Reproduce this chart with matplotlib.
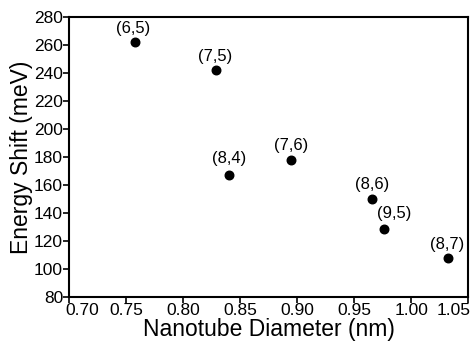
import matplotlib.pyplot as plt
import matplotlib.transforms as mtransforms

plt.rcParams['font.family'] = ['Liberation Sans', 'DejaVu Sans']

# chirality labels, diameters (nm) and energy shifts (meV)
chirality = ["(6,5)", "(7,5)", "(8,4)", "(7,6)", "(8,6)", "(9,5)", "(8,7)"]
diameter = [0.758, 0.829, 0.840, 0.895, 0.966, 0.976, 1.032]
shift = [262.5, 242, 167, 178, 150, 128.5, 107.5]

xticks = [0.70, 0.75, 0.80, 0.85, 0.90, 0.95, 1.00, 1.05]
xticklabels = ["0.70", "0.75", "0.80", "0.85", "0.90", "0.95", "1.00", "1.05"]

# label offsets in pixels (dx, dy)
offsets = [(-2, 13), (-1, 14), (0, 17), (0, 14), (0, 14), (10, 15), (0, 14)]

fig = plt.figure(figsize=(4.73, 3.43), dpi=100)
ax = fig.add_axes([0.1465, 0.135, 0.843, 0.815])

ax.scatter(diameter, shift, s=38, color='black', zorder=3)
for lab, x, y, off in zip(chirality, diameter, shift, offsets):
    ax.annotate(lab, (x, y), xytext=off, textcoords='offset pixels',
                ha='center', va='center', fontsize=12)

ax.set_xlim(0.70, 1.05)
ax.set_ylim(80, 280)
ax.set_xticks(xticks)
ax.set_xticklabels(xticklabels)
ax.set_yticks(range(80, 281, 20))

ax.set_xlabel("Nanotube Diameter (nm)", fontsize=16.5, labelpad=0)
ax.set_ylabel("Energy Shift (meV)", fontsize=16.5, labelpad=1)
ax.tick_params(direction='out', length=4, width=1.2, labelsize=12.5, pad=0.5)
for sp in ax.spines.values():
    sp.set_linewidth(1.5)

# edge tick labels pulled inside like the original
labs = ax.get_xticklabels()
labs[0].set_ha('left')
labs[0].set_transform(labs[0].get_transform() +
                      mtransforms.ScaledTranslation(-4 / 100, 0, fig.dpi_scale_trans))
labs[-1].set_ha('right')
labs[-1].set_transform(labs[-1].get_transform() +
                       mtransforms.ScaledTranslation(3 / 100, 0, fig.dpi_scale_trans))

fig.savefig("out.png", dpi=100)
